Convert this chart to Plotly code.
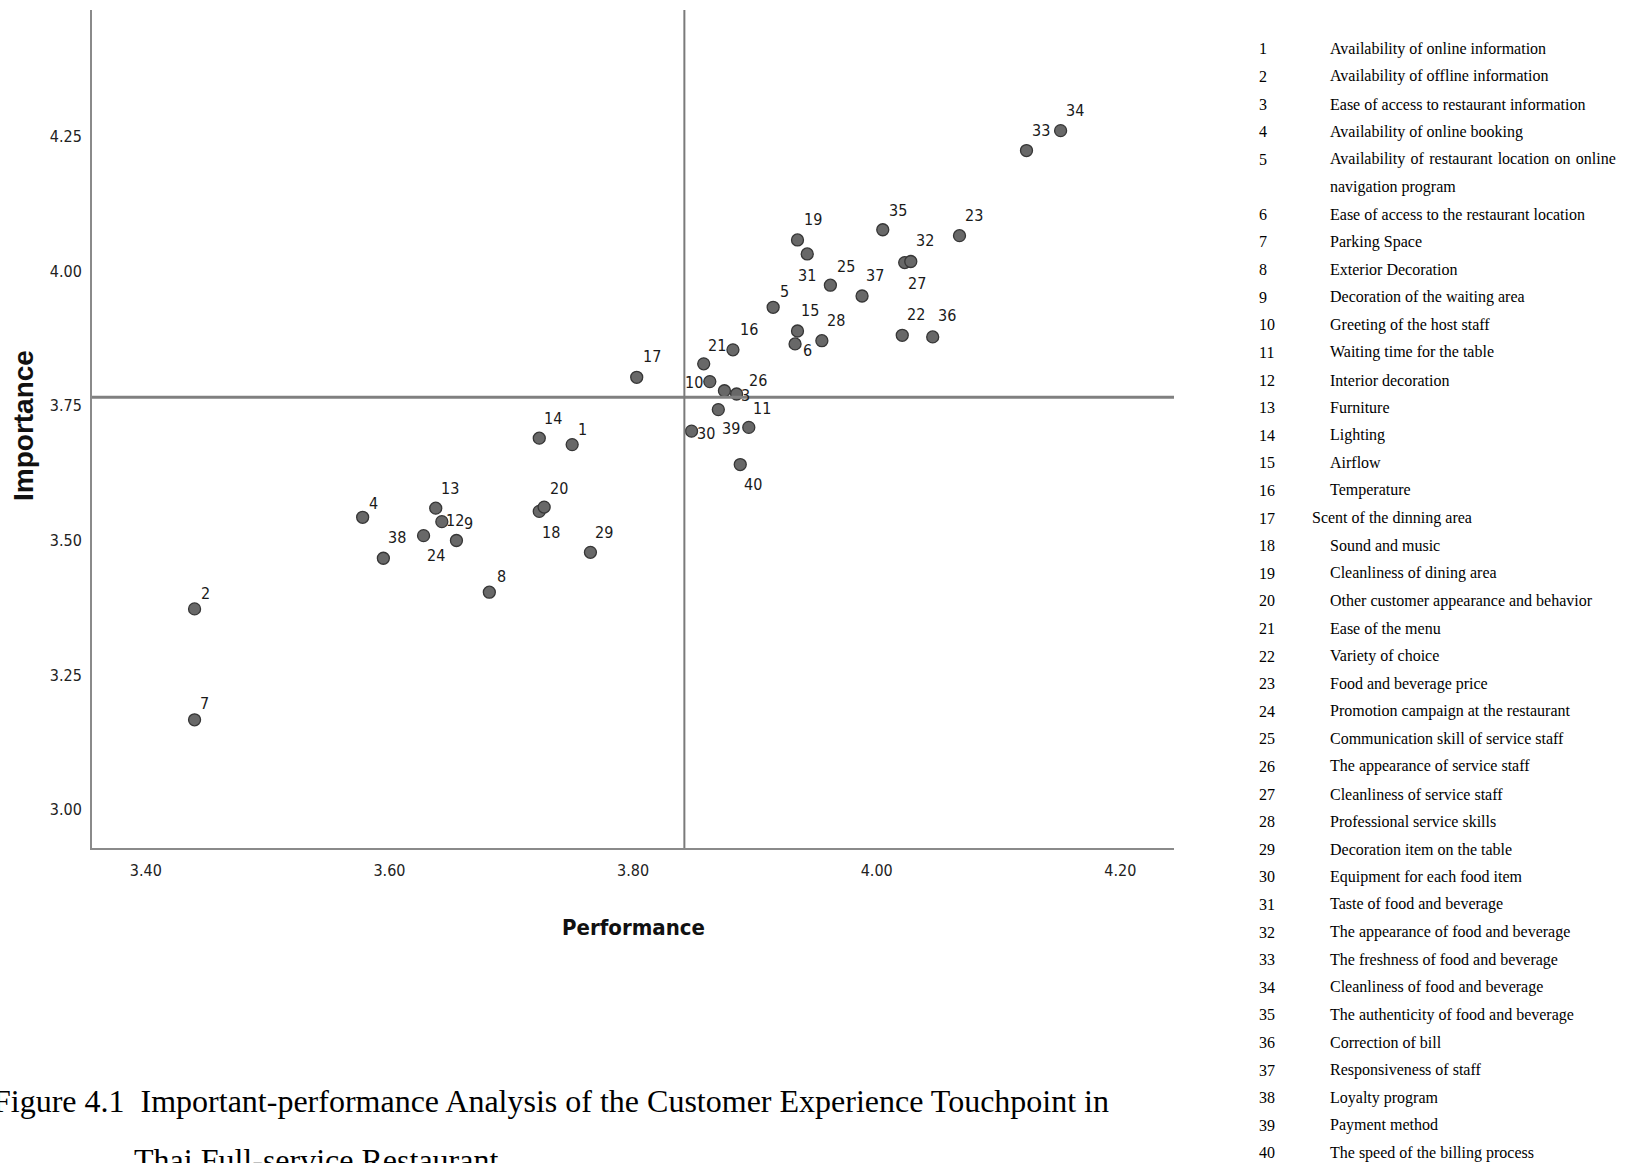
import numpy as np
import plotly.graph_objects as go

# ---------------- data ----------------
item_ids = list(range(1, 41))
performance = [3.750, 3.440, 3.885, 3.578, 3.915, 3.933, 3.440, 3.682, 3.655, 3.863,
               3.895, 3.643, 3.638, 3.723, 3.935, 3.882, 3.803, 3.723, 3.935, 3.727,
               3.858, 4.021, 4.068, 3.628, 3.962, 3.875, 4.023, 3.955, 3.765, 3.848,
               3.943, 4.028, 4.123, 4.151, 4.005, 4.046, 3.988, 3.595, 3.870, 3.888]
importance = [3.678, 3.373, 3.772, 3.543, 3.933, 3.865, 3.167, 3.404, 3.500, 3.795,
              3.710, 3.535, 3.560, 3.690, 3.889, 3.854, 3.803, 3.554, 4.058, 3.562,
              3.828, 3.881, 4.066, 3.509, 3.974, 3.778, 4.016, 3.871, 3.478, 3.703,
              4.032, 4.018, 4.224, 4.261, 4.077, 3.878, 3.954, 3.467, 3.743, 3.641]
item_names = [
    "Availability of online information",
    "Availability of offline information",
    "Ease of access to restaurant information",
    "Availability of online booking",
    "Availability of restaurant location on online|navigation program",
    "Ease of access to the restaurant location",
    "Parking Space",
    "Exterior Decoration",
    "Decoration of the waiting area",
    "Greeting of the host staff",
    "Waiting time for the table",
    "Interior decoration",
    "Furniture",
    "Lighting",
    "Airflow",
    "Temperature",
    "Scent of the dinning area",
    "Sound and music",
    "Cleanliness of dining area",
    "Other customer appearance and behavior",
    "Ease of the menu",
    "Variety of choice",
    "Food and beverage price",
    "Promotion campaign at the restaurant",
    "Communication skill of service staff",
    "The appearance of service staff",
    "Cleanliness of service staff",
    "Professional service skills",
    "Decoration item on the table",
    "Equipment for each food item",
    "Taste of food and beverage",
    "The appearance of food and beverage",
    "The freshness of food and beverage",
    "Cleanliness of food and beverage",
    "The authenticity of food and beverage",
    "Correction of bill",
    "Responsiveness of staff",
    "Loyalty program",
    "Payment method",
    "The speed of the billing process",
]
x_ticks = [3.40, 3.60, 3.80, 4.00, 4.20]
y_ticks = [3.00, 3.25, 3.50, 3.75, 4.00, 4.25]
x_title = "Performance"
y_title = "Importance"
caption_line1 = "Figure 4.1  Important-performance Analysis of the Customer Experience Touchpoint in"
caption_line2 = "Thai Full-service Restaurant"

# ---------------- styling ----------------
W, H = 1628, 1163
ML, MR, MT, MB = 92, 454, 10, 315
PW, PH = W - ML - MR, H - MT - MB
X_RANGE = [3.3558, 4.2441]
Y_RANGE = [2.929, 4.485]

# label offsets (dx right, dy down) in px from point centre
label_offsets = {
    1: (10, -15), 2: (11, -15), 3: (9, 2), 4: (11, -14), 5: (11, -16),
    6: (12, 7), 7: (10, -16), 8: (12, -16), 9: (12, -17), 10: (-16, 1),
    11: (13, -19), 12: (13, -1), 13: (14, -20), 14: (14, -20), 15: (12, -20),
    16: (16, -20), 17: (15, -21), 18: (12, 21), 19: (15, -20), 20: (15, -19),
    21: (13, -18), 22: (14, -21), 23: (14, -20), 24: (12, 20), 25: (16, -19),
    26: (34, -10), 27: (12, 21), 28: (14, -20), 29: (14, -20), 30: (14, 2),
    31: (0, 22), 32: (14, -21), 33: (15, -20), 34: (14, -20), 35: (15, -19),
    36: (14, -21), 37: (13, -20), 38: (14, -21), 39: (13, 19), 40: (13, 20),
}

NARROW = "Liberation Sans Narrow, Arial Narrow, DejaVu Sans Condensed, sans-serif"
SERIF = "Liberation Serif, Times New Roman, serif"
SANS = "Liberation Sans, Arial, sans-serif"
AXIS_GREY = "#8a8a8a"


def px(xpix):
    return (xpix - ML) / PW


def py(ypix):
    return (MT + PH - ypix) / PH


fig = go.Figure()

fig.add_trace(go.Scatter(
    x=performance, y=importance, mode="markers",
    marker=dict(size=12, color="#686868", line=dict(color="#363636", width=1.3)),
    hoverinfo="text", text=[str(i) for i in item_ids], showlegend=False,
))

mean_perf = float(np.mean(performance))
mean_imp = float(np.mean(importance))

shapes = [
    dict(type="line", xref="x", yref="y", x0=X_RANGE[0], x1=X_RANGE[1], y0=mean_imp, y1=mean_imp,
         line=dict(color="#808080", width=3)),
    dict(type="line", xref="x", yref="y", x0=mean_perf, x1=mean_perf, y0=Y_RANGE[0], y1=Y_RANGE[1],
         line=dict(color="#7a7a7a", width=2)),
]

annotations = []
for i, xv, yv in zip(item_ids, performance, importance):
    dx, dy = label_offsets[i]
    annotations.append(dict(
        x=xv, y=yv, xref="x", yref="y", text=str(i), showarrow=False,
        xanchor="center", yanchor="middle", xshift=dx, yshift=-dy,
        font=dict(family=NARROW, size=16, color="#1a1a1a"),
    ))

# axis titles
annotations.append(dict(x=px(633), y=py(927), xref="paper", yref="paper", text="<b>" + x_title + "</b>",
                        showarrow=False, xanchor="center", yanchor="middle",
                        font=dict(family=NARROW, size=22, color="#111111")))
annotations.append(dict(x=px(23), y=py(426), xref="paper", yref="paper", text="<b>" + y_title + "</b>",
                        showarrow=False, xanchor="center", yanchor="middle",
                        font=dict(family=SANS, size=28, color="#111111"), textangle=-90))

# caption
annotations.append(dict(x=px(-9), y=py(1101), xref="paper", yref="paper", text=caption_line1,
                        showarrow=False, xanchor="left", yanchor="middle",
                        font=dict(family=SERIF, size=32, color="#000000")))
annotations.append(dict(x=px(132), y=py(1160), xref="paper", yref="paper", text=caption_line2,
                        showarrow=False, xanchor="left", yanchor="middle",
                        font=dict(family=SERIF, size=32, color="#000000")))

# item legend table
ROW0, ROWH = 48.8, 27.6
NUM_X, TXT_X, TXT_X17 = 1257, 1328, 1310
line_k = 0
for i, name in zip(item_ids, item_names):
    yc = ROW0 + line_k * ROWH
    annotations.append(dict(x=px(NUM_X), y=py(yc), xref="paper", yref="paper", text=str(i),
                            showarrow=False, xanchor="left", yanchor="middle",
                            font=dict(family=SERIF, size=16, color="#000000")))
    parts = name.split("|")
    for j, part in enumerate(parts):
        tx = TXT_X17 if i == 17 else TXT_X
        if len(parts) > 1 and j == 0:
            part = part.replace(" ", " \u200a")
        annotations.append(dict(x=px(tx), y=py(yc + j * ROWH), xref="paper", yref="paper",
                                text=part, showarrow=False, xanchor="left", yanchor="middle",
                                font=dict(family=SERIF, size=16, color="#000000")))
    line_k += len(parts)

fig.update_layout(
    width=W, height=H, autosize=False,
    margin=dict(l=ML, r=MR, t=MT, b=MB, pad=0),
    paper_bgcolor="white", plot_bgcolor="white",
    shapes=shapes, annotations=annotations,
    xaxis=dict(range=X_RANGE, tickvals=x_ticks, ticktext=[f"{v:.2f}" for v in x_ticks],
               showgrid=False, zeroline=False, showline=True, linecolor=AXIS_GREY, linewidth=2,
               ticks="", ticklabelstandoff=7,
               tickfont=dict(family=NARROW, size=16, color="#222222")),
    yaxis=dict(range=Y_RANGE, tickvals=y_ticks, ticktext=[f"{v:.2f}" for v in y_ticks],
               showgrid=False, zeroline=False, showline=True, linecolor=AXIS_GREY, linewidth=2,
               ticks="", ticklabelstandoff=5,
               tickfont=dict(family=NARROW, size=16, color="#222222")),
)

fig.write_html("out.html", config={"displayModeBar": False},
               post_script="document.body.style.margin='0px';document.body.style.overflow='hidden';")
